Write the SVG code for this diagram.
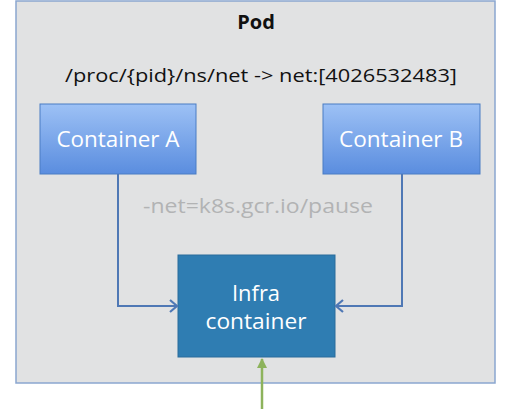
<svg xmlns="http://www.w3.org/2000/svg" width="515" height="409" viewBox="0 0 515 409">
<style>
.t{font-family:"Open Sans","DejaVu Sans",sans-serif}
.w{fill:#ffffff;font-size:22px}
.ln{fill:none;stroke:#4f78b5;stroke-width:2}
</style>
<defs>
<linearGradient id="g" x1="0" y1="0" x2="0" y2="1">
<stop offset="0" stop-color="#9dc1f5"/>
<stop offset="1" stop-color="#5a8ddf"/>
</linearGradient>
<marker id="ah" markerWidth="12" markerHeight="14" refX="10" refY="7" orient="auto" markerUnits="userSpaceOnUse">
<path d="M3,1 L10,7 L3,13" fill="none" stroke="#4f78b5" stroke-width="2.2"/>
</marker>
<marker id="ag" markerWidth="12" markerHeight="12" refX="10" refY="6" orient="auto" markerUnits="userSpaceOnUse">
<path d="M1,1 L11,6 L1,11 Z" fill="#8db35c"/>
</marker>
</defs>
<rect width="515" height="409" fill="#ffffff"/>
<g id="pod">
<rect x="16" y="1" width="479" height="382" fill="#e1e2e3" stroke="#8aa6d0" stroke-width="1.5"/>
<text class="t" x="256" y="29" text-anchor="middle" font-size="20" font-weight="bold" fill="#111">Pod</text>
<text class="t" x="261" y="82" text-anchor="middle" font-size="19" fill="#111" textLength="392" lengthAdjust="spacingAndGlyphs">/proc/{pid}/ns/net -&gt; net:[4026532483]</text>
</g>
<g id="containerA">
<rect x="40" y="104" width="156" height="70" fill="url(#g)" stroke="#4a7cc4" stroke-width="1"/>
<text class="t w" x="118" y="147" text-anchor="middle" textLength="123" lengthAdjust="spacingAndGlyphs">Container A</text>
</g>
<g id="containerB">
<rect x="323" y="104" width="157" height="70" fill="url(#g)" stroke="#4a7cc4" stroke-width="1"/>
<text class="t w" x="401" y="147" text-anchor="middle" textLength="124" lengthAdjust="spacingAndGlyphs">Container B</text>
</g>
<g id="infra">
<rect x="178" y="255" width="157" height="102" fill="#2f7db2" stroke="#2a6c9c" stroke-width="1"/>
<text class="t w" x="256" y="301" text-anchor="middle" textLength="48" lengthAdjust="spacingAndGlyphs">Infra</text>
<text class="t w" x="256" y="329" text-anchor="middle" textLength="101" lengthAdjust="spacingAndGlyphs">container</text>
</g>
<g id="label">
<text class="t" x="258" y="213" text-anchor="middle" font-size="20" fill="#b2b3b4" textLength="230" lengthAdjust="spacingAndGlyphs">-net=k8s.gcr.io/pause</text>
</g>
<g id="connectors">
<path class="ln" d="M118,174 V306 H177" marker-end="url(#ah)"/>
<path class="ln" d="M402,174 V306 H336" marker-end="url(#ah)"/>
<path d="M262,409 V359" stroke="#8db35c" stroke-width="2.5" fill="none" marker-end="url(#ag)"/>
</g>
</svg>
